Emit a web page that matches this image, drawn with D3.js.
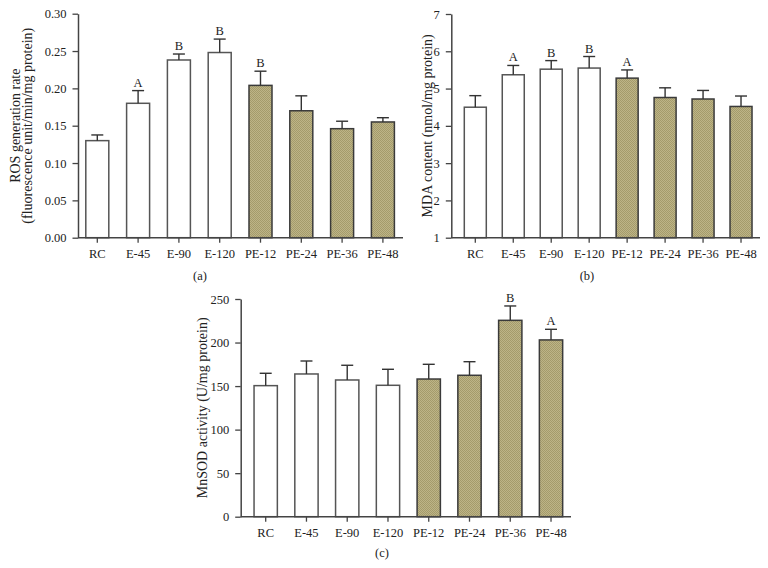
<!DOCTYPE html>
<html>
<head>
<meta charset="utf-8">
<script src="https://cdn.jsdelivr.net/npm/d3@7"></script>
<style>
  html, body { margin: 0; padding: 0; background: #fff; }
  svg { display: block; font-family: "Liberation Serif", "Times New Roman", serif; }
</style>
</head>
<body>
<svg id="chart" width="768" height="568"></svg>
<script>
// ---------- data ----------
const categories = ["RC", "E-45", "E-90", "E-120", "PE-12", "PE-24", "PE-36", "PE-48"];
const groupType = ["white", "white", "white", "white", "hatched", "hatched", "hatched", "hatched"];

const rosValues = [0.130, 0.180, 0.238, 0.248, 0.204, 0.170, 0.146, 0.155];
const rosErrors = [0.0076, 0.017, 0.008, 0.018, 0.019, 0.020, 0.010, 0.0057];
const rosLetters = ["", "A", "B", "B", "B", "", "", ""];
const rosTicks = [0.00, 0.05, 0.10, 0.15, 0.20, 0.25, 0.30];

const mdaValues = [4.50, 5.37, 5.52, 5.55, 5.28, 4.76, 4.72, 4.52];
const mdaErrors = [0.31, 0.25, 0.23, 0.31, 0.22, 0.26, 0.23, 0.28];
const mdaLetters = ["", "A", "B", "B", "A", "", "", ""];
const mdaTicks = [1, 2, 3, 4, 5, 6, 7];

const sodValues = [150.5, 163.9, 157.0, 150.9, 158.1, 162.4, 225.5, 203.0];
const sodErrors = [14.2, 14.9, 16.9, 18.4, 16.9, 15.6, 16.5, 12.2];
const sodLetters = ["", "", "", "", "", "", "B", "A"];
const sodTicks = [0, 50, 100, 150, 200, 250];

// ---------- layout ----------
const panels = [
  { values: rosValues, errors: rosErrors, letters: rosLetters, ticks: rosTicks, fmt: d3.format(".2f"),
    yAxisX: 78, xEnd: 403, yTop: 13.7, yBottom: 237.7, c0: 97.3, step: 40.8, barW: 23,
    titles: ["ROS generation rate", "(fluorescence unit/min/mg protein)"], titleX: [20, 32],
    caption: "(a)", capX: 200, capY: 280 },
  { values: mdaValues, errors: mdaErrors, letters: mdaLetters, ticks: mdaTicks, fmt: d3.format("d"),
    yAxisX: 451.3, xEnd: 760, yTop: 14, yBottom: 237.7, c0: 475.3, step: 37.96, barW: 22,
    titles: ["MDA content (nmol/mg protein)"], titleX: [431.5],
    caption: "(b)", capX: 587, capY: 280 },
  { values: sodValues, errors: sodErrors, letters: sodLetters, ticks: sodTicks, fmt: d3.format("d"),
    yAxisX: 240.7, xEnd: 571, yTop: 299, yBottom: 516.7, c0: 265.7, step: 40.76, barW: 23.3,
    titles: ["MnSOD activity (U/mg protein)"], titleX: [206.5],
    caption: "(c)", capX: 382, capY: 557 }
];

const svg = d3.select("#chart");
const defs = svg.append("defs");
const pat = defs.append("pattern").attr("id", "hatch")
  .attr("patternUnits", "userSpaceOnUse").attr("width", 2).attr("height", 2);
pat.append("rect").attr("width", 2).attr("height", 2).attr("fill", "#bdb487");
pat.append("rect").attr("width", 1).attr("height", 1).attr("fill", "#a49b6b");
pat.append("rect").attr("x", 1).attr("y", 1).attr("width", 1).attr("height", 1).attr("fill", "#a49b6b");

const axisColor = "#444";
const textColor = "#222";
const fontSize = 12.5;

panels.forEach(p => {
  const g = svg.append("g");
  const n = categories.length;
  const inner = 1 - p.barW / p.step;
  const x = d3.scaleBand().domain(categories)
    .range([p.c0 - p.step / 2, p.c0 + (n - 0.5) * p.step])
    .paddingInner(inner).paddingOuter(inner / 2);
  const y = d3.scaleLinear().domain([p.ticks[0], p.ticks[p.ticks.length - 1]])
    .range([p.yBottom, p.yTop]);

  // bars
  g.selectAll("rect.bar").data(categories).enter().append("rect")
    .attr("class", "bar")
    .attr("x", d => x(d))
    .attr("width", x.bandwidth())
    .attr("y", (d, i) => y(p.values[i]))
    .attr("height", (d, i) => y(p.ticks[0]) - y(p.values[i]))
    .attr("fill", (d, i) => groupType[i] === "white" ? "#fff" : "url(#hatch)")
    .attr("stroke", (d, i) => groupType[i] === "white" ? "#555" : "#3a3a3a")
    .attr("stroke-width", 1.5);

  // error bars
  const eb = g.selectAll("g.err").data(categories).enter().append("g").attr("class", "err");
  eb.append("line")
    .attr("x1", d => x(d) + x.bandwidth() / 2).attr("x2", d => x(d) + x.bandwidth() / 2)
    .attr("y1", (d, i) => y(p.values[i])).attr("y2", (d, i) => y(p.values[i] + p.errors[i]))
    .attr("stroke", "#333").attr("stroke-width", 1.4);
  eb.append("line")
    .attr("x1", d => x(d) + x.bandwidth() / 2 - 6).attr("x2", d => x(d) + x.bandwidth() / 2 + 6)
    .attr("y1", (d, i) => y(p.values[i] + p.errors[i])).attr("y2", (d, i) => y(p.values[i] + p.errors[i]))
    .attr("stroke", "#333").attr("stroke-width", 1.4);

  // letters
  g.selectAll("text.letter").data(categories).enter().append("text")
    .attr("class", "letter")
    .attr("x", d => x(d) + x.bandwidth() / 2)
    .attr("y", (d, i) => y(p.values[i] + p.errors[i]) - 4)
    .attr("text-anchor", "middle")
    .attr("font-size", fontSize).attr("fill", textColor)
    .text((d, i) => p.letters[i]);

  // x axis
  const xAxis = d3.axisBottom(x).tickSize(5).tickSizeOuter(0).tickPadding(6);
  const gx = g.append("g").attr("transform", `translate(0,${p.yBottom})`).call(xAxis);
  gx.select(".domain").remove();
  gx.append("line").attr("x1", p.yAxisX).attr("x2", p.xEnd).attr("y1", 0).attr("y2", 0)
    .attr("stroke", axisColor).attr("stroke-width", 1.5);
  gx.selectAll(".tick line").attr("stroke", axisColor).attr("stroke-width", 1.3);
  gx.selectAll(".tick text").attr("font-size", fontSize).attr("fill", textColor)
    .attr("font-family", "Liberation Serif, Times New Roman, serif");

  // y axis
  const yAxis = d3.axisLeft(y).tickValues(p.ticks).tickFormat(p.fmt)
    .tickSize(5.5).tickSizeOuter(0).tickPadding(6);
  const gy = g.append("g").attr("transform", `translate(${p.yAxisX},0)`).call(yAxis);
  gy.select(".domain").attr("stroke", axisColor).attr("stroke-width", 1.5);
  gy.selectAll(".tick line").attr("stroke", axisColor).attr("stroke-width", 1.3);
  gy.selectAll(".tick text").attr("font-size", fontSize).attr("fill", textColor)
    .attr("font-family", "Liberation Serif, Times New Roman, serif");

  // y titles
  const cy = (p.yTop + p.yBottom) / 2;
  p.titles.forEach((t, k) => {
    g.append("text")
      .attr("transform", `translate(${p.titleX[k]},${cy}) rotate(-90)`)
      .attr("text-anchor", "middle")
      .attr("font-size", 14).attr("fill", textColor)
      .text(t);
  });

  // caption
  g.append("text").attr("x", p.capX).attr("y", p.capY)
    .attr("text-anchor", "middle").attr("font-size", fontSize).attr("fill", textColor)
    .text(p.caption);
});
</script>
</body>
</html>
